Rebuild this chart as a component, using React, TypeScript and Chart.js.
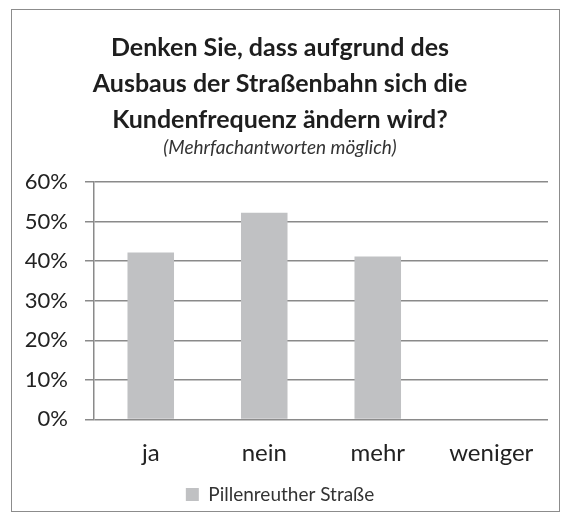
import { useEffect, useRef } from "react";
import { Chart, registerables } from "chart.js";

Chart.register(...registerables);

const categories = ["ja", "nein", "mehr", "weniger"];
const seriesName = "Pillenreuther Straße";
const seriesValues = [42.2, 52.2, 41.2, 0];
const yTickValues = [0, 10, 20, 30, 40, 50, 60];
const titleLines = [
  "Denken Sie, dass aufgrund des",
  "Ausbaus der Straßenbahn sich die",
  "Kundenfrequenz ändern wird?",
];
const subtitleText = "(Mehrfachantworten möglich)";

const FONT = "Lato, 'Open Sans', sans-serif";

export default function App() {
  const canvasRef = useRef<HTMLCanvasElement | null>(null);

  useEffect(() => {
    if (!canvasRef.current) return;
    const chart = new Chart(canvasRef.current, {
      type: "bar",
      data: {
        labels: categories,
        datasets: [
          {
            label: seriesName,
            data: seriesValues,
            backgroundColor: "#c0c1c3",
            borderWidth: 0,
            categoryPercentage: 1,
            barPercentage: 0.41,
          },
        ],
      },
      options: {
        animation: false,
        responsive: false,
        maintainAspectRatio: false,
        layout: { padding: { left: 12, right: 24, top: 30, bottom: 6 } },
        plugins: {
          title: {
            display: true,
            text: titleLines,
            color: "#1e1e1e",
            font: { family: FONT, size: 25, weight: "bold", lineHeight: 1.44 },
            padding: { top: 0, bottom: 0 },
          },
          subtitle: {
            display: true,
            text: subtitleText,
            color: "#333333",
            font: { family: FONT, size: 19, style: "italic", lineHeight: 1.0 },
            padding: { top: 0, bottom: 25 },
          },
          legend: {
            display: true,
            position: "bottom",
            labels: {
              boxWidth: 13,
              boxHeight: 13,
              padding: 6,
              color: "#333333",
              font: { family: FONT, size: 19 },
            },
          },
          tooltip: { enabled: false },
        },
        scales: {
          x: {
            grid: { display: false },
            border: { display: false },
            ticks: {
              color: "#222222",
              font: { family: FONT, size: 24, lineHeight: 1.15 },
              padding: 12,
            },
          },
          y: {
            min: 0,
            max: 60,
            afterFit: (scale: any) => {
              scale.width = 82;
            },
            afterBuildTicks: (scale: any) => {
              scale.ticks = yTickValues.map((v) => ({ value: v }));
            },
            grid: {
              color: "#8a8a8a",
              lineWidth: 1.5,
              tickLength: 9,
              drawTicks: true,
            },
            border: { display: true, color: "#8a8a8a", width: 1.5 },
            ticks: {
              color: "#222222",
              font: { family: FONT, size: 22 },
              padding: 17,
              callback: (v: any) => v + "%",
            },
          },
        },
      },
    });
    return () => chart.destroy();
  }, []);

  return (
    <div style={{ position: "fixed", left: 0, top: 0, width: 572, height: 520, background: "#fff" }}>
      <div
        style={{
          position: "absolute",
          left: 11,
          top: 9,
          width: 549,
          height: 503,
          border: "1.5px solid #8c8c8c",
          boxSizing: "border-box",
        }}
      />
      <canvas ref={canvasRef} width={572} height={520} style={{ position: "absolute", left: 0, top: 0 }} />
    </div>
  );
}
